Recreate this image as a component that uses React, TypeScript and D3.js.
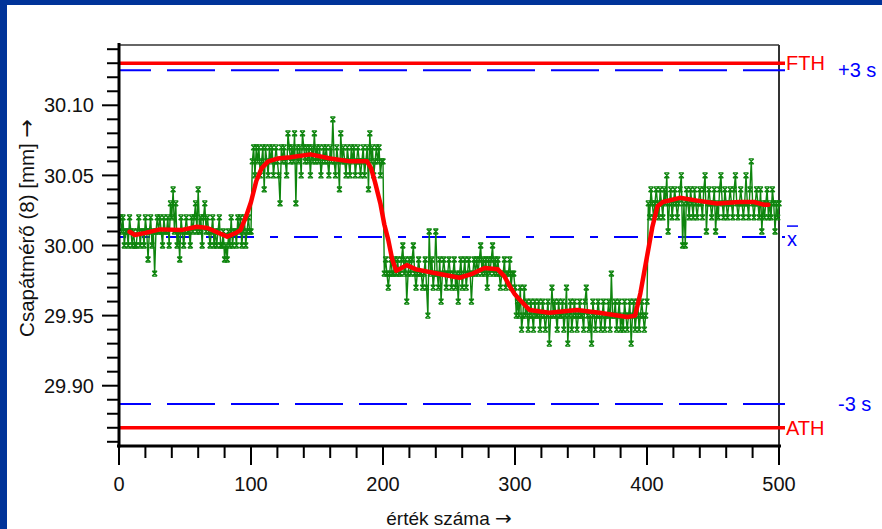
import React from "react";
import * as d3 from "d3";

const W = 882;
const H = 529;
const NOMINAL = 30.0;

// individual measurements, in hundredths of a mm around 30.00, read in blocks of 100
const block1 = [
  2, 1, 2, 0, 1, 1, 0, 2, 1, 0, 1, 0, 0, 1, 2, 0, 1, 1, 0, 2,
  1, -1, 1, 2, 0, 1, -2, 1, 2, 1, 2, 1, 0, 2, 1, 1, 2, 0, 3, 2,
  4, 1, 3, 0, 1, -1, 2, 1, 0, 1, 2, 1, 1, 0, 2, 1, 2, 3, 1, 4,
  1, 2, 0, 2, 3, 1, 2, 1, 0, 1, 2, 0, 1, 0, 1, 2, 0, 0, 1, -1,
  0, -1, 1, 0, 2, 0, 1, 1, 0, 2, 1, 2, 0, 1, 2, 0, 1, 2, 1, 1,
];
const block2 = [
  6, 7, 5, 7, 6, 7, 5, 6, 7, 4, 7, 6, 5, 7, 6, 7, 5, 6, 7, 6,
  5, 3, 7, 6, 7, 6, 5, 8, 7, 6, 7, 6, 8, 3, 7, 6, 7, 5, 8, 7,
  6, 7, 6, 7, 5, 7, 6, 8, 6, 7, 6, 7, 5, 6, 7, 6, 7, 6, 5, 7,
  6, 9, 6, 5, 7, 6, 4, 8, 6, 7, 6, 5, 7, 6, 5, 7, 6, 7, 5, 6,
  7, 6, 5, 6, 7, 5, 6, 7, 4, 8, 6, 7, 5, 6, 7, 6, 7, 5, 6, 6,
];
const block3 = [
  -2, -1, -2, -3, -2, -1, -2, -2, -1, -2, -1, -2, -2, -1, 0, -2, -1, -4, -2, -1,
  -2, -1, 0, -2, -3, -2, -1, -2, -2, -3, -2, -1, -3, -5, 1, -2, -1, -3, -2, 1,
  -2, -3, -1, -4, -2, -1, -2, -3, -2, -1, -2, -3, -2, -1, -3, -2, -4, -2, -1, -3,
  -2, -1, -3, -2, -1, -2, -4, -2, -1, -2, -1, -2, -1, 0, -2, -1, -2, -1, -3, -1,
  -2, -1, 0, -2, -1, -2, -1, -2, -3, -2, -2, -1, -3, -2, -2, -1, -3, -2, -2, -3,
];
const block4 = [
  -5, -4, -5, -3, -6, -5, -3, -5, -4, -6, -5, -4, -5, -6, -4, -5, -5, -4, -6, -5,
  -4, -5, -6, -5, -4, -7, -5, -3, -5, -4, -5, -6, -4, -5, -5, -4, -6, -5, -3, -7,
  -5, -4, -6, -5, -4, -5, -6, -5, -4, -5, -5, -6, -4, -3, -5, -6, -5, -7, -4, -5,
  -6, -5, -4, -5, -6, -5, -4, -6, -5, -5, -4, -6, -2, -5, -5, -4, -6, -5, -4, -6,
  -5, -6, -4, -5, -6, -5, -4, -7, -5, -4, -6, -5, -4, -6, -5, -4, -5, -6, -5, -4,
];
const block5 = [
  3, 2, 4, 3, 2, 3, 4, 3, 2, 4, 3, 2, 4, 3, 5, 1, 3, 4, 2, 3,
  4, 3, 2, 3, 4, 5, 0, 3, 0, 4, 3, 2, 4, 3, 2, 4, 3, 2, 3, 4,
  3, 2, 4, 5, 1, 3, 4, 3, 2, 3, 4, 1, 3, 2, 4, 5, 3, 2, 4, 3,
  2, 3, 4, 3, 2, 4, 5, 3, 2, 3, 4, 3, 2, 3, 5, 3, 2, 4, 6, 3,
  2, 3, 4, 3, 2, 4, 1, 3, 2, 3, 4, 2, 3, 2, 4, 3, 1, 3, 2, 3,
];

const measured = [...block1, ...block2, ...block3, ...block4, ...block5].map(
  (v) => NOMINAL + v / 100
);

// smoothed (moving average) curve
const avgIndex = [
  8, 12, 20, 31, 47, 59, 67, 73, 82, 88, 92, 96, 100, 104, 108, 113, 120, 130,
  145, 160, 175, 188, 191, 194, 198, 201, 204, 207, 210, 214, 218, 225, 241,
  258, 268, 277, 287, 292, 296, 300, 304, 311, 326, 347, 364, 385, 391, 395,
  400, 404, 408, 412, 425, 438, 453, 470, 481, 489, 492,
];
const avgValue = [
  30.0098, 30.0075, 30.009, 30.0115, 30.011, 30.0134, 30.0125, 30.01, 30.0063,
  30.0087, 30.011, 30.02, 30.031, 30.046, 30.055, 30.06, 30.062, 30.063,
  30.065, 30.062, 30.06, 30.06, 30.055, 30.045, 30.03, 30.015, 30.004, 29.99,
  29.982, 29.984, 29.986, 29.983, 29.98, 29.977, 29.98, 29.984, 29.983,
  29.978, 29.971, 29.965, 29.961, 29.954, 29.952, 29.954, 29.952, 29.949,
  29.95, 29.966, 29.992, 30.013, 30.028, 30.031, 30.034, 30.032, 30.03,
  30.031, 30.031, 30.029, 30.029,
];

const FTH = 30.13;
const ATH = 29.87;
const PLUS3S = 30.125;
const MINUS3S = 29.887;
const MEAN = 30.006;

const xMajor = [0, 100, 200, 300, 400, 500];
const yMajor = [29.9, 29.95, 30.0, 30.05, 30.1];

const FONT = "'Liberation Sans', Arial, sans-serif";
const ARROW_FONT = "'DejaVu Sans', sans-serif";
const GREEN = "#0e850e";

const left = 119;
const right = 779;
const top = 45;
const bottom = 446;
const lineEnd = 785;

export default function App() {
  const x = d3.scaleLinear().domain([0, 500]).range([left, right]);
  const y = d3.scaleLinear().domain([29.857, 30.143]).range([bottom, top]);

  const rawLine = d3
    .line<number>()
    .x((_, i) => x(i + 1))
    .y((d) => y(d));
  const avgLine = d3
    .line<number>()
    .x((_, i) => x(avgIndex[i]))
    .y((d) => y(d));

  const xMinor = x.ticks(25);
  const yMinor = y.ticks(29);
  const fmt = d3.format(".2f");

  return (
    <div style={{ position: "fixed", left: 0, top: 0 }}>
      <svg width={W} height={H} style={{ display: "block" }} fontFamily={FONT}>
        <rect width={W} height={H} fill="#003399" />
        <rect x={7} y={5} width={W - 7} height={H - 5} fill="#ffffff" />

        {/* frame */}
        <line x1={left} x2={right} y1={top} y2={top} stroke="#333" strokeWidth={1.5} />
        <line x1={right} x2={right} y1={top} y2={bottom} stroke="#333" strokeWidth={2} />

        {/* control limits */}
        <line x1={left} x2={lineEnd} y1={y(FTH)} y2={y(FTH)} stroke="#ff0000" strokeWidth={3.5} />
        <line x1={left} x2={lineEnd} y1={y(ATH)} y2={y(ATH)} stroke="#ff0000" strokeWidth={3.5} />
        <line
          x1={left} x2={lineEnd} y1={y(PLUS3S)} y2={y(PLUS3S)}
          stroke="#0000ff" strokeWidth={2} strokeDasharray="48,16" strokeDashoffset={16}
        />
        <line
          x1={left} x2={lineEnd} y1={y(MINUS3S)} y2={y(MINUS3S)}
          stroke="#0000ff" strokeWidth={2} strokeDasharray="48,16" strokeDashoffset={16}
        />
        <line
          x1={left} x2={lineEnd} y1={y(MEAN)} y2={y(MEAN)}
          stroke="#0000ff" strokeWidth={2} strokeDasharray="24,16,8,16" strokeDashoffset={17}
        />

        {/* measurements */}
        <path d={rawLine(measured) ?? ""} fill="none" stroke={GREEN} strokeWidth={1.4} />
        <g stroke={GREEN} strokeWidth={1.3}>
          {measured.map((d, i) => (
            <path
              key={i}
              transform={`translate(${x(i + 1)},${y(d)})`}
              d="M-2.5,-2.5L2.5,2.5M-2.5,2.5L2.5,-2.5M-2.5,-2.5H2.5M-2.5,2.5H2.5"
            />
          ))}
        </g>
        <path
          d={avgLine(avgValue) ?? ""}
          fill="none"
          stroke="#ff0000"
          strokeWidth={4.5}
          strokeLinejoin="round"
          strokeLinecap="round"
        />

        {/* y axis */}
        <line x1={left} x2={left} y1={43} y2={bottom + 1.5} stroke="#000" strokeWidth={3} />
        {yMinor.map((t) => {
          const major = yMajor.some((m) => Math.abs(m - t) < 1e-6);
          return (
            <line
              key={t}
              x1={major ? left - 17 : left - 12}
              x2={left}
              y1={y(t)}
              y2={y(t)}
              stroke="#000"
              strokeWidth={2}
            />
          );
        })}
        {yMajor.map((t) => (
          <text key={t} x={94} y={y(t)} dy="0.36em" textAnchor="end" fontSize={20} fill="#111">
            {fmt(t)}
          </text>
        ))}

        {/* x axis */}
        <line x1={left - 2} x2={right + 2} y1={bottom} y2={bottom} stroke="#000" strokeWidth={3} />
        {xMinor.map((t) => {
          const major = xMajor.includes(t);
          return (
            <line
              key={t}
              x1={x(t)}
              x2={x(t)}
              y1={bottom}
              y2={major ? 465 : 458}
              stroke="#000"
              strokeWidth={2}
            />
          );
        })}
        {xMajor.map((t) => (
          <text key={t} x={x(t)} y={484} dy="0.36em" textAnchor="middle" fontSize={20} fill="#111">
            {t}
          </text>
        ))}

        {/* right-side labels */}
        <text x={786} y={y(FTH)} dy="0.36em" fontSize={20} fill="#ff0000">FTH</text>
        <text x={838} y={y(PLUS3S)} dy="0.36em" fontSize={20} fill="#0000ff">+3 s</text>
        <text x={787} y={y(MEAN) + 2} dy="0.36em" fontSize={20} fill="#0000ff">x</text>
        <line x1={787} x2={798} y1={y(MEAN) - 11} y2={y(MEAN) - 11} stroke="#0000ff" strokeWidth={1.5} />
        <text x={838} y={y(MINUS3S)} dy="0.36em" fontSize={20} fill="#0000ff">-3 s</text>
        <text x={786} y={y(ATH)} dy="0.36em" fontSize={20} fill="#ff0000">ATH</text>

        {/* axis titles */}
        <text
          transform="translate(27,228) rotate(-90)"
          textAnchor="middle"
          dy="0.36em"
          fontSize={20.5}
          fill="#111"
        >
          Csapátmérő (8) [mm]{" "}
          <tspan fontFamily={ARROW_FONT} fontSize={22}>→</tspan>
        </text>
        <text x={449} y={518} dy="0.36em" textAnchor="middle" fontSize={19} fill="#111">
          érték száma{" "}
          <tspan fontFamily={ARROW_FONT} fontSize={20}>→</tspan>
        </text>
      </svg>
    </div>
  );
}
